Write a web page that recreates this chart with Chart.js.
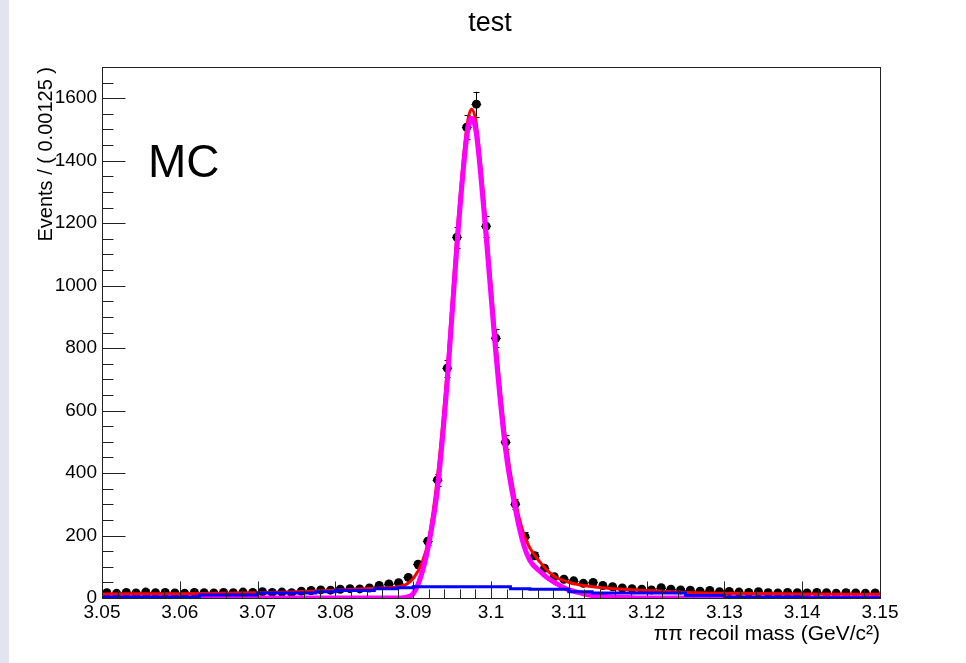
<!DOCTYPE html>
<html>
<head>
<meta charset="utf-8">
<title>test</title>
<script src="https://cdn.jsdelivr.net/npm/chart.js@4.4.1/dist/chart.umd.min.js"></script>
<style>
  html, body { margin: 0; padding: 0; }
  body { background: linear-gradient(to right, #e4e4f0 0, #e4e4f0 9px, #ffffff 9px); }
  #wrap { position: relative; width: 966px; height: 663px; }
</style>
</head>
<body>
<div id="wrap"><canvas id="chart-area"></canvas></div>
<script>
// histogram binning: 80 bins of 0.00125 from 3.05
const xMin = 3.05;
const binWidth = 0.00125;

// events per bin
const counts = [
  17, 15, 18, 16, 19, 17, 18, 16, 15, 18,
  17, 16, 18, 17, 19, 18, 20, 18, 19, 17,
  22, 24, 26, 25, 28, 30, 29, 32, 40, 45,
  49, 66, 108, 182, 378, 736, 1155, 1507, 1581, 1190,
  832, 499, 301, 196, 135, 95, 68, 60, 55, 47,
  50, 40, 36, 32, 30, 28, 26, 33, 28, 26,
  25, 22, 24, 20, 21, 19, 18, 20, 17, 16,
  18, 17, 16, 18, 17, 15, 17, 16, 15, 16
];

// total fit (red)
const totalX = [3.05, 3.06, 3.065, 3.07, 3.075, 3.08, 3.085, 3.088, 3.089, 3.09, 3.0911, 3.092, 3.0931, 3.0944,
  3.0956, 3.0969, 3.0975, 3.0981, 3.0994, 3.1006, 3.1019, 3.1031, 3.1042, 3.105, 3.1063, 3.1075, 3.1085,
  3.1098, 3.111, 3.1128, 3.115, 3.12, 3.125, 3.13, 3.14, 3.15];
const totalY = [13, 14, 15, 17, 20, 25, 31, 36, 42, 62, 111, 190, 385, 740,
  1160, 1510, 1565, 1520, 1190, 830, 505, 315, 205, 160, 115, 82, 64,
  52, 44, 37, 31, 24, 18, 15, 13, 12];

// signal component (magenta)
const signalX = [3.05, 3.085, 3.088, 3.089, 3.09, 3.091, 3.0919, 3.0931, 3.0944, 3.0956, 3.0969, 3.0975,
  3.0981, 3.0994, 3.1006, 3.1019, 3.1031, 3.1042, 3.105, 3.1063, 3.1075, 3.1085, 3.1098, 3.111,
  3.1128, 3.115, 3.118, 3.12, 3.15];
const signalY = [0, 0, 0, 2, 14, 70, 160, 345, 700, 1120, 1480, 1536,
  1490, 1150, 790, 470, 290, 170, 120, 85, 60, 45, 28, 19,
  9, 4, 1, 0, 0];

// background component (blue, histogram shape)
const bkgX = [3.05, 3.0625, 3.07, 3.0775, 3.08, 3.085, 3.088, 3.09, 3.1025, 3.105, 3.11, 3.113, 3.125, 3.13, 3.14, 3.15];
const bkgY = [3, 10, 16, 20, 24, 30, 33, 36, 30, 28, 20, 16, 8, 3, 1, 1];

const xTickValues = [3.05, 3.06, 3.07, 3.08, 3.09, 3.1, 3.11, 3.12, 3.13, 3.14, 3.15];
const yTickValues = [0, 200, 400, 600, 800, 1000, 1200, 1400, 1600];

const fontFamily = "'Liberation Sans', Arial, Helvetica, sans-serif";

const binCenters = counts.map((c, i) => xMin + (i + 0.5) * binWidth);
const dataPoints = counts.map((c, i) => ({ x: binCenters[i], y: c }));

function pairs(xs, ys) {
  return xs.map((x, i) => ({ x: x, y: ys[i] }));
}

function crisp(v) {
  return Math.round(v) + 0.5;
}

const rootStyle = {
  id: 'rootStyle',
  beforeDatasetsDraw(chart) {
    // error bars under the markers
    const ctx = chart.ctx;
    const xs = chart.scales.x;
    const ys = chart.scales.y;
    const a = chart.chartArea;
    ctx.save();
    ctx.beginPath();
    ctx.rect(a.left, a.top, a.right - a.left, a.bottom - a.top);
    ctx.clip();
    ctx.strokeStyle = '#000';
    ctx.lineWidth = 1;
    counts.forEach((n, i) => {
      const px = crisp(xs.getPixelForValue(binCenters[i]));
      const py = crisp(ys.getPixelForValue(n));
      const err = Math.sqrt(n);
      const top = ys.getPixelForValue(n + err);
      const bot = ys.getPixelForValue(n - err);
      const l = xs.getPixelForValue(binCenters[i] - binWidth / 2);
      const r = xs.getPixelForValue(binCenters[i] + binWidth / 2);
      ctx.beginPath();
      ctx.moveTo(l, py); ctx.lineTo(r, py);
      ctx.moveTo(px, top); ctx.lineTo(px, bot);
      ctx.moveTo(px - 3, crisp(top)); ctx.lineTo(px + 3, crisp(top));
      ctx.moveTo(px - 3, crisp(bot)); ctx.lineTo(px + 3, crisp(bot));
      ctx.stroke();
    });
    ctx.restore();
  },
  afterDatasetsDraw(chart) {
    const ctx = chart.ctx;
    const xs = chart.scales.x;
    const ys = chart.scales.y;
    const a = chart.chartArea;
    ctx.save();
    ctx.strokeStyle = '#222';
    ctx.lineWidth = 1;
    ctx.strokeRect(crisp(a.left), crisp(a.top), Math.round(a.right - a.left), Math.round(a.bottom - a.top));

    ctx.beginPath();
    // y ticks, inward
    for (let v = 0; v <= 1700; v += 50) {
      const py = crisp(ys.getPixelForValue(v));
      const len = v % 200 === 0 ? 23 : 11;
      ctx.moveTo(crisp(a.left), py);
      ctx.lineTo(crisp(a.left) + len, py);
    }
    // x ticks, inward
    for (let k = 0; k <= 50; k++) {
      const v = xMin + k * 0.002;
      const px = crisp(xs.getPixelForValue(v));
      const len = k % 5 === 0 ? 17 : 9;
      ctx.moveTo(px, crisp(a.bottom));
      ctx.lineTo(px, crisp(a.bottom) - len);
    }
    ctx.stroke();
    ctx.restore();
  },
  afterDraw(chart) {
    const ctx = chart.ctx;
    ctx.save();
    ctx.fillStyle = '#000';
    ctx.textAlign = 'center';
    ctx.textBaseline = 'alphabetic';
    ctx.font = '27px ' + fontFamily;
    ctx.fillText('test', 490, 31);
    ctx.textAlign = 'left';
    ctx.font = '46px ' + fontFamily;
    ctx.fillText('MC', 148, 177);
    ctx.restore();
  }
};

const ctx = document.getElementById('chart-area').getContext('2d');
const chart = new Chart(ctx, {
  type: 'scatter',
  data: {
    datasets: [
      {
        label: 'data',
        data: dataPoints,
        pointRadius: 4.5,
        pointHoverRadius: 4.5,
        pointBackgroundColor: '#000',
        pointBorderWidth: 0,
        showLine: false,
        order: 4
      },
      {
        label: 'total',
        data: pairs(totalX, totalY),
        showLine: true,
        borderColor: '#ff0000',
        borderWidth: 3,
        pointRadius: 0,
        cubicInterpolationMode: 'monotone',
        fill: false,
        order: 3
      },
      {
        label: 'signal',
        data: pairs(signalX, signalY),
        showLine: true,
        borderColor: '#ff00ff',
        borderWidth: 5,
        pointRadius: 0,
        cubicInterpolationMode: 'monotone',
        fill: false,
        order: 2
      },
      {
        label: 'background',
        data: pairs(bkgX, bkgY),
        showLine: true,
        borderColor: '#0000ff',
        borderWidth: 3,
        pointRadius: 0,
        stepped: true,
        fill: false,
        order: 1
      }
    ]
  },
  options: {
    responsive: true,
    maintainAspectRatio: false,
    animation: false,
    devicePixelRatio: 1,
    layout: { padding: { top: 67, right: 86, left: 0, bottom: 0 } },
    plugins: {
      legend: { display: false },
      tooltip: { enabled: false },
      title: { display: false }
    },
    scales: {
      x: {
        type: 'linear',
        position: 'bottom',
        min: 3.05,
        max: 3.15,
        afterBuildTicks: s => { s.ticks = xTickValues.map(v => ({ value: v })); },
        afterFit: s => { s.height = 65; },
        grid: { display: false, drawTicks: false },
        border: { display: false },
        ticks: {
          autoSkip: false,
          maxRotation: 0,
          padding: 3,
          color: '#000',
          font: { family: fontFamily, size: 19 },
          callback: v => String(parseFloat(Number(v).toFixed(2)))
        },
        title: {
          display: true,
          text: 'ππ recoil mass (GeV/c²)',
          align: 'end',
          color: '#000',
          font: { family: fontFamily, size: 21 },
          padding: { top: 0, bottom: 16 }
        }
      },
      y: {
        min: 0,
        max: 1700,
        afterBuildTicks: s => { s.ticks = yTickValues.map(v => ({ value: v })); },
        afterFit: s => { s.width = 102; },
        grid: { display: false, drawTicks: false },
        border: { display: false },
        ticks: {
          padding: 5,
          color: '#000',
          font: { family: fontFamily, size: 19 },
          callback: v => String(v)
        },
        title: {
          display: true,
          text: 'Events / ( 0.00125 )',
          align: 'end',
          color: '#000',
          font: { family: fontFamily, size: 20 },
          padding: { top: 34, bottom: 0 }
        }
      }
    }
  },
  plugins: [rootStyle]
});
</script>
</body>
</html>
